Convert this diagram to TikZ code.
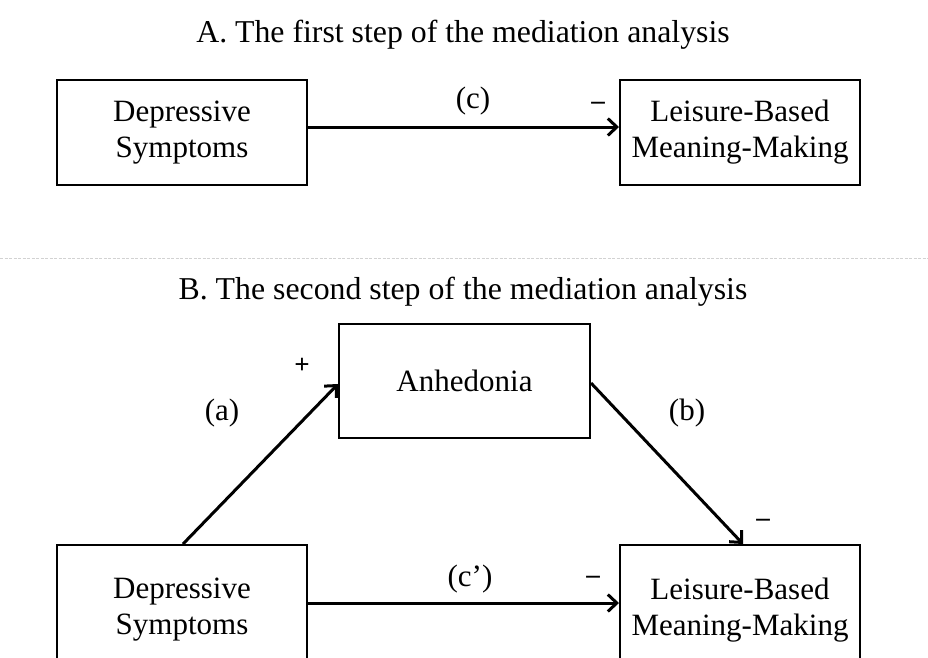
\documentclass[tikz,border=0pt]{standalone}
\usepackage{fontspec}
\setmainfont{Liberation Serif}
\usetikzlibrary{arrows.meta}
\begin{document}
\begin{tikzpicture}[x=1pt,y=-1pt,
  box/.style={draw=black,line width=2pt,rectangle,inner sep=0pt,align=center,
    font=\fontsize{31}{36}\selectfont},
  lbl/.style={inner sep=0pt,font=\fontsize{31}{36}\selectfont},
  sign/.style={inner sep=0pt,font=\fontsize{27}{30}\selectfont\bfseries},
  ttl/.style={inner sep=0pt,font=\fontsize{31.8}{36}\selectfont},
  arr/.style={line width=3pt,-{Straight Barb[length=9pt,width=17pt,line width=3pt]}},
  sep/.style={draw=gray!35,line width=0.8pt,dash pattern=on 3pt off 1.5pt}]
\useasboundingbox (0,0) rectangle (928,657);
\clip (0,0) rectangle (928,657);
% Part A
\node[ttl] (tA) at (463,35) {A. The first step of the mediation analysis};
\node[box,minimum width=250pt,minimum height=105pt] (A1) at (182,132.5) {Depressive\\Symptoms};
\node[box,minimum width=240pt,minimum height=105pt] (A2) at (740,132.5) {Leisure-Based\\Meaning-Making};
\draw[arr] ([yshift=5.5pt]A1.east) -- ([yshift=5.5pt]A2.west);
\node[lbl] (lc) at (473,101) {(c)};
\node[sign] (sc) at (598,106) {–};
% separator
\coordinate (s1) at (0,258);
\coordinate (s2) at (928,258);
\draw[sep] (s1) -- (s2);
% Part B
\node[ttl] (tB) at (463,292) {B. The second step of the mediation analysis};
\node[box,minimum width=251pt,minimum height=114pt] (An) at (464.5,381) {Anhedonia};
\node[box,minimum width=250pt,minimum height=130pt] (B1) at (182,610) {Depressive\\Symptoms};
\node[box,minimum width=240pt,minimum height=130pt] (B2) at (740,610) {Leisure-Based\\Meaning-Making};
\draw[arr] ([xshift=1pt]B1.north) -- ([yshift=-3pt]An.west);
\draw[arr] ([yshift=-2pt]An.east) -- ([xshift=3pt]B2.north);
\draw[arr] ([yshift=7pt]B1.east) -- ([yshift=7pt]B2.west);
\node[sign] (sa) at (302,366) {+};
\node[lbl] (la) at (222,413) {(a)};
\node[lbl] (lb) at (687,413) {(b)};
\node[sign] (sb) at (763,523) {–};
\node[lbl] (lcp) at (470,579) {(c’)};
\node[sign] (scp) at (593,580) {–};
\end{tikzpicture}
\end{document}
